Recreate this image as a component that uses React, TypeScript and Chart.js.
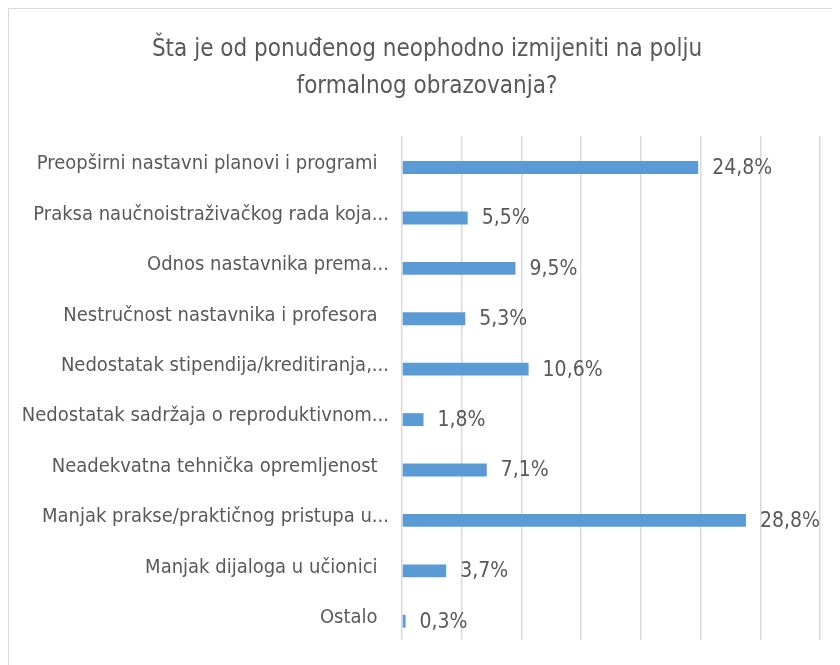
import { useEffect, useRef } from "react";
import { Chart, registerables } from "chart.js";

Chart.register(...registerables);

const titleLines = [
  "Šta je od ponuđenog neophodno izmijeniti na polju",
  "formalnog obrazovanja?",
];

const categories = [
  "Preopširni nastavni planovi i programi",
  "Praksa naučnoistraživačkog rada koja...",
  "Odnos nastavnika prema...",
  "Nestručnost nastavnika i profesora",
  "Nedostatak stipendija/kreditiranja,...",
  "Nedostatak sadržaja o reproduktivnom...",
  "Neadekvatna tehnička opremljenost",
  "Manjak prakse/praktičnog pristupa u...",
  "Manjak dijaloga u učionici",
  "Ostalo",
];

const values = [24.8, 5.5, 9.5, 5.3, 10.6, 1.8, 7.1, 28.8, 3.7, 0.3];
const spacerValues = values.map(() => null);

const xMin = 0;
const xMax = 35;
const xStep = 5;

const FONT = "'DejaVu Sans Condensed', 'Liberation Sans Narrow', sans-serif";
const TEXT = "#595959";
const BAR = "#5B9BD5";
const GRID = "#D9D9D9";

const fmt = (v: number) => v.toFixed(1).replace(".", ",") + "%";

const dataLabels = {
  id: "dataLabels",
  afterDatasetsDraw(chart: any) {
    const meta = chart.getDatasetMeta(1);
    const ctx = chart.ctx;
    ctx.save();
    ctx.font = `21px ${FONT}`;
    ctx.fillStyle = TEXT;
    ctx.textAlign = "left";
    ctx.textBaseline = "middle";
    meta.data.forEach((bar: any, i: number) => {
      ctx.fillText(fmt(values[i]), bar.x + 14, bar.y + 1);
    });
    ctx.restore();
  },
};

export default function App() {
  const ref = useRef<HTMLCanvasElement | null>(null);

  useEffect(() => {
    document.documentElement.style.overflow = "hidden";
    document.body.style.overflow = "hidden";
    if (!ref.current) return;
    const chart = new Chart(ref.current, {
      type: "bar",
      data: {
        labels: categories,
        datasets: [
          {
            label: "spacer",
            data: spacerValues as any,
            backgroundColor: "rgba(0,0,0,0)",
          },
          {
            label: "Odgovori",
            data: values,
            backgroundColor: BAR,
            borderWidth: 0,
          },
        ],
      },
      options: {
        indexAxis: "y",
        responsive: false,
        maintainAspectRatio: false,
        animation: false,
        categoryPercentage: 0.51,
        barPercentage: 1,
        layout: { padding: { left: 5, right: 0, top: 0, bottom: 22 } },
        plugins: {
          legend: { display: false },
          tooltip: { enabled: false },
          title: {
            display: true,
            text: titleLines,
            color: TEXT,
            font: { family: FONT, size: 24, weight: "normal", lineHeight: 1.54 },
            padding: { top: 22, bottom: 31 },
          },
        },
        scales: {
          x: {
            min: xMin,
            max: xMax,
            ticks: { display: false, stepSize: xStep },
            grid: { color: GRID, lineWidth: 1.5, drawTicks: false },
            border: { display: false },
          },
          y: {
            ticks: {
              color: TEXT,
              padding: 13,
              labelOffset: 3,
              font: { family: FONT, size: 20 },
              callback: (_v: any, i: number) => {
                const l = categories[i];
                return l.endsWith("...") ? l : l + "  ";
              },
            },
            grid: { display: false, drawTicks: false },
            border: { display: false },
            afterFit: (scale: any) => {
              scale.width = 388;
            },
          },
          yRight: {
            type: "category",
            position: "right",
            labels: categories,
            ticks: { display: false },
            grid: { display: false, drawTicks: false },
            border: { display: false },
            afterFit: (scale: any) => {
              scale.width = 20;
            },
          },
        },
      },
      plugins: [dataLabels],
    });
    return () => chart.destroy();
  }, []);

  return (
    <div
      style={{
        width: 832,
        height: 657,
        boxSizing: "border-box",
        borderTop: `1px solid ${GRID}`,
        borderLeft: `1px solid ${GRID}`,
        background: "#fff",
      }}
    >
      <canvas ref={ref} width={831} height={656} style={{ display: "block" }} />
    </div>
  );
}
